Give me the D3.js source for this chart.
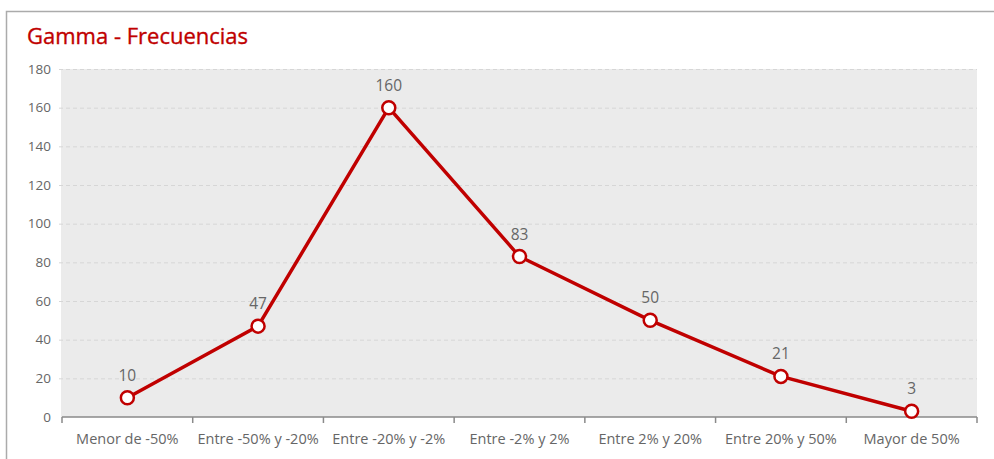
<!DOCTYPE html>
<html>
<head>
<meta charset="utf-8">
<script src="https://cdn.jsdelivr.net/npm/d3@7"></script>
<style>
  html, body { margin: 0; padding: 0; background: #fff; }
  svg { display: block; }
</style>
</head>
<body>
<svg id="chart" width="994" height="459"></svg>
<script>
// Frequency distribution of gamma ranges
const categories = [
  "Menor de -50%",
  "Entre -50% y -20%",
  "Entre -20% y -2%",
  "Entre -2% y 2%",
  "Entre 2% y 20%",
  "Entre 20% y 50%",
  "Mayor de 50%"
];
const frecuencias = [10, 47, 160, 83, 50, 21, 3];
const yTicks = [0, 20, 40, 60, 80, 100, 120, 140, 160, 180];
const chartTitle = "Gamma - Frecuencias";

const svg = d3.select("#chart");
const W = 994, H = 459;
const margin = { left: 62, right: 17, top: 69, bottom: 42 };
const red = "#c00000";
const textFont = "'Open Sans', Lato, sans-serif";

// Outer panel frame
svg.append("path")
  .attr("d", `M${W + 2},11.5 H6.5 V${H + 2}`)
  .attr("fill", "none")
  .attr("stroke", "#ababab")
  .attr("stroke-width", 1.5);

svg.append("text")
  .attr("x", 27)
  .attr("y", 44)
  .attr("fill", red)
  .attr("font-family", textFont)
  .attr("font-size", 22)
  .attr("font-weight", 400)
  .attr("stroke", red)
  .attr("stroke-width", 0.35)
  .text(chartTitle);

const x = d3.scaleBand()
  .domain(categories)
  .range([margin.left, W - margin.right])
  .paddingInner(0)
  .paddingOuter(0);

const y = d3.scaleLinear()
  .domain([0, 180])
  .range([H - margin.bottom, margin.top]);

// Plot background
svg.append("rect")
  .attr("x", x.range()[0] - 1)
  .attr("y", y(180))
  .attr("width", x.range()[1] - x.range()[0] + 1)
  .attr("height", y(0) - y(180))
  .attr("fill", "#ebebeb");

// Horizontal dashed grid + y axis
const yAxis = d3.axisLeft(y)
  .tickValues(yTicks)
  .tickSize(-(x.range()[1] - x.range()[0] + 3))
  .tickPadding(8);

const gy = svg.append("g")
  .attr("transform", `translate(${x.range()[0] - 3},0)`)
  .call(yAxis);
gy.select(".domain").remove();
gy.selectAll(".tick line")
  .attr("stroke", "#d6d6d6")
  .attr("stroke-dasharray", "4,3")
  .attr("stroke-width", 1)
  .filter(d => d === 0).remove();
gy.selectAll(".tick text")
  .attr("fill", "#666")
  .attr("font-family", textFont)
  .attr("font-size", 13.5);

// Bottom axis with ticks on category boundaries
const gx = svg.append("g")
  .attr("transform", `translate(0,${y(0)})`);
gx.append("line")
  .attr("x1", x.range()[0]).attr("x2", x.range()[1])
  .attr("y1", 0).attr("y2", 0)
  .attr("stroke", "#8a8a8a")
  .attr("stroke-width", 1.5);
const boundaries = categories.map(c => x(c)).concat([x.range()[1]]);
gx.selectAll("line.b")
  .data(boundaries)
  .join("line")
  .attr("class", "b")
  .attr("x1", d => d).attr("x2", d => d)
  .attr("y1", 0).attr("y2", 6)
  .attr("stroke", "#8a8a8a")
  .attr("stroke-width", 1.5);
gx.selectAll("text.cat")
  .data(categories)
  .join("text")
  .attr("class", "cat")
  .attr("x", d => x(d) + x.bandwidth() / 2)
  .attr("y", 27)
  .attr("text-anchor", "middle")
  .attr("fill", "#666")
  .attr("font-family", textFont)
  .attr("font-size", 14.5)
  .text(d => d);

const pts = categories.map((c, i) => ({ c, v: frecuencias[i] }));
const cx = d => x(d.c) + x.bandwidth() / 2;

svg.append("path")
  .datum(pts)
  .attr("fill", "none")
  .attr("stroke", red)
  .attr("stroke-width", 3.5)
  .attr("stroke-linejoin", "round")
  .attr("d", d3.line().x(cx).y(d => y(d.v)));

svg.selectAll("circle.pt")
  .data(pts)
  .join("circle")
  .attr("class", "pt")
  .attr("cx", cx)
  .attr("cy", d => y(d.v))
  .attr("r", 6.5)
  .attr("fill", "#fff")
  .attr("stroke", red)
  .attr("stroke-width", 2.5);

svg.selectAll("text.val")
  .data(pts)
  .join("text")
  .attr("class", "val")
  .attr("x", cx)
  .attr("y", d => y(d.v) - 17)
  .attr("text-anchor", "middle")
  .attr("fill", "#666")
  .attr("font-family", textFont)
  .attr("font-size", 15.5)
  .text(d => d.v);
</script>
</body>
</html>
